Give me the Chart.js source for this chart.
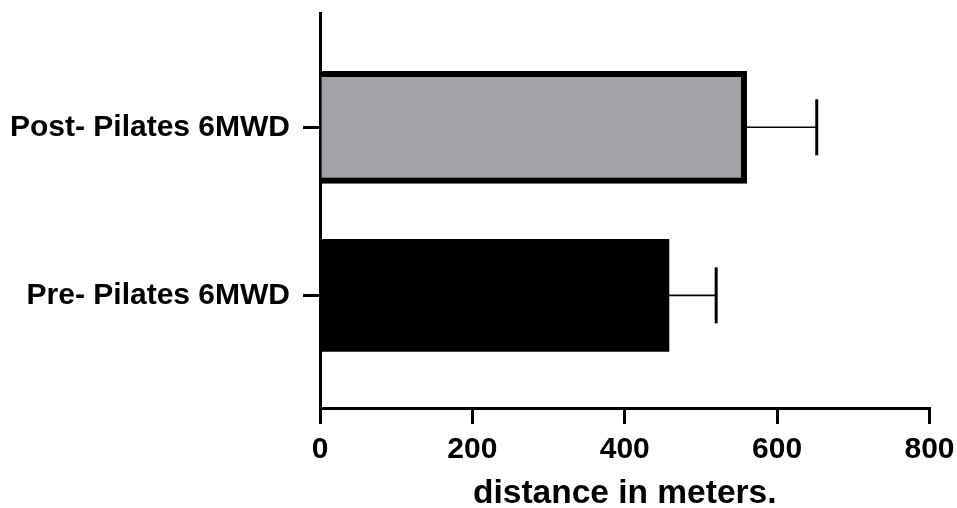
<!DOCTYPE html>
<html>
<head>
<meta charset="utf-8">
<script src="https://cdn.jsdelivr.net/npm/chart.js@4/dist/chart.umd.min.js"></script>
<style>
  html, body { margin: 0; padding: 0; background: #ffffff; }
  #wrap { width: 957px; height: 508px; position: relative; }
</style>
</head>
<body>
<div id="wrap"><canvas id="c"></canvas></div>
<script>
const categories = ["Post- Pilates 6MWD", "Pre- Pilates 6MWD"];
const means = [560, 458];
const errors = [92, 62];
const xTicks = [0, 200, 400, 600, 800];
const barColors = ["#a2a1a5", "#000000"];
const barBorders = [6, 0];
const axisTitle = "distance in meters.";

const FONT = "'Liberation Sans', Arial, Helvetica, sans-serif";

const errorBarPlugin = {
  id: "errorBars",
  afterDatasetsDraw(chart) {
    const ctx = chart.ctx;
    const xs = chart.scales.x;
    const meta = chart.getDatasetMeta(0);
    ctx.save();
    ctx.strokeStyle = "#000000";
    meta.data.forEach((bar, i) => {
      const y = bar.y;
      const x0 = xs.getPixelForValue(means[i]);
      const x1 = xs.getPixelForValue(means[i] + errors[i]);
      ctx.lineWidth = 1.6;
      ctx.beginPath();
      ctx.moveTo(x0, y);
      ctx.lineTo(x1, y);
      ctx.stroke();
      ctx.lineWidth = 3;
      ctx.beginPath();
      ctx.moveTo(x1, y - 28);
      ctx.lineTo(x1, y + 28);
      ctx.stroke();
    });
    ctx.restore();
  }
};

new Chart(document.getElementById("c"), {
  type: "bar",
  data: {
    datasets: [{
      data: categories.map((c, i) => ({ x: means[i], y: i + 1 })),
      backgroundColor: barColors,
      borderColor: "#000000",
      borderWidth: barBorders,
      barThickness: 112
    }]
  },
  options: {
    indexAxis: "y",
    responsive: true,
    maintainAspectRatio: false,
    animation: false,
    layout: { padding: { top: 13, right: 27.5, bottom: 0, left: 0 } },
    plugins: { legend: { display: false }, tooltip: { enabled: false }, title: { display: false } },
    scales: {
      x: {
        type: "linear",
        min: xTicks[0],
        max: xTicks[xTicks.length - 1],
        afterBuildTicks: (s) => { s.ticks = xTicks.map(v => ({ value: v })); },
        afterFit: (s) => { s.height = 100; s.paddingLeft = 0; s.paddingRight = 0; },
        grid: { drawOnChartArea: false, drawTicks: true, tickLength: 16, tickWidth: 3, tickColor: "#000000", color: "#000000", lineWidth: 3 },
        border: { display: true, color: "#000000", width: 3 },
        ticks: { color: "#000000", padding: 8, maxRotation: 0, font: { family: FONT, size: 30, weight: "bold" } },
        title: { display: true, text: axisTitle, color: "#000000", padding: 0, font: { family: FONT, size: 33.5, weight: "bold", lineHeight: 0.83 } }
      },
      y: {
        type: "linear",
        reverse: true,
        offset: false,
        min: 0.32,
        max: 2.67,
        afterBuildTicks: (s) => { s.ticks = categories.map((c, i) => ({ value: i + 1 })); },
        afterFit: (s) => { s.width = 320; s.paddingTop = 0; s.paddingBottom = 0; },
        grid: { offset: false, drawOnChartArea: false, drawTicks: true, tickLength: 17, tickWidth: 3, tickColor: "#000000", color: "#000000", lineWidth: 3 },
        border: { display: true, color: "#000000", width: 3 },
        ticks: {
          color: "#000000",
          padding: 13,
          autoSkip: false,
          font: { family: FONT, size: 30, weight: "bold" },
          callback: (v) => categories[Math.round(v) - 1] || ""
        }
      }
    }
  },
  plugins: [errorBarPlugin]
});
</script>
</body>
</html>
